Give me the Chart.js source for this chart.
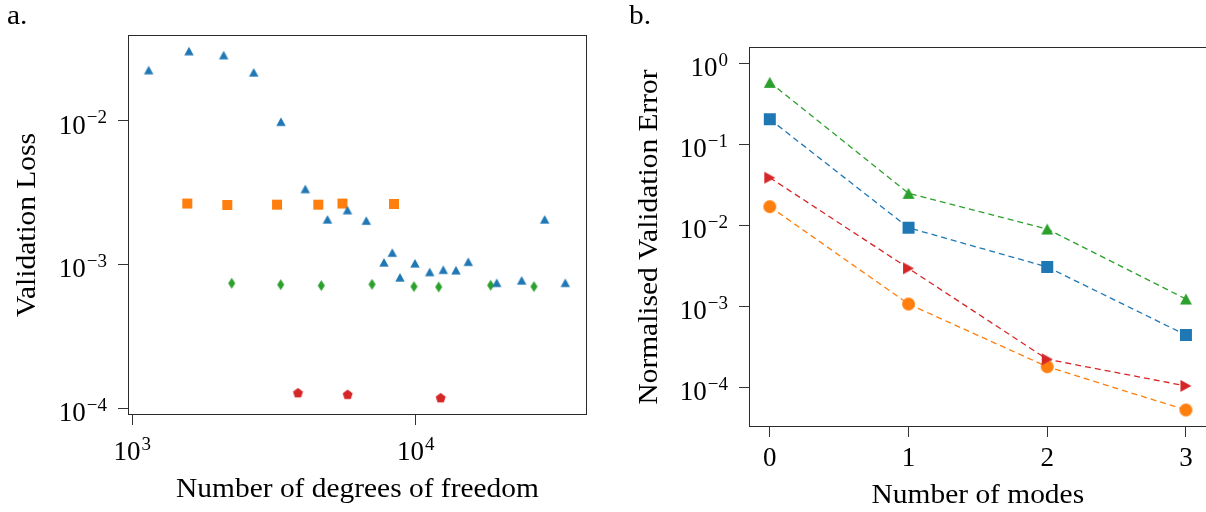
<!DOCTYPE html>
<html><head><meta charset="utf-8">
<script src="https://cdn.jsdelivr.net/npm/chart.js@4.4.0/dist/chart.umd.min.js"></script>
<style>
html,body{margin:0;padding:0;background:#fff;overflow:hidden;width:1206px;height:512px;position:relative}
#wa{position:absolute;left:0;top:0;width:600px;height:512px}
#wb{position:absolute;left:600px;top:0;width:612px;height:512px}
</style></head><body>
<div id="wa"><canvas id="ca" width="600" height="512"></canvas></div>
<div id="wb"><canvas id="cb" width="612" height="512"></canvas></div>
<script>
// ---------- Panel a data ----------
const dofTri  = [1142, 1585, 2101, 2682, 3347, 4077, 4884, 5746, 6694, 7727, 8268, 8802, 9943, 11205, 12516, 13875, 15330, 19316, 23660, 28520, 33720];
const lossTri = [0.0225, 0.0305, 0.0286, 0.0217, 0.00984, 0.00335, 0.00206, 0.00239, 0.00202, 0.001035, 0.00121, 0.000814, 0.00102, 0.000887, 0.00092, 0.000912, 0.001045, 0.000746, 0.000776, 0.00206, 0.000746];
const dofSq   = [1563, 2163, 3241, 4532, 5516, 8383];
const lossSq  = [0.002655, 0.002595, 0.002606, 0.002606, 0.002655, 0.002635];
const dofDia  = [2243, 3339, 4644, 7013, 9862, 12057, 18390, 26150];
const lossDia = [0.00074, 0.000724, 0.000713, 0.000728, 0.000702, 0.000698, 0.000717, 0.000702];
const dofPent = [3843, 5754, 12252];
const lossPent= [0.0001284, 0.0001251, 0.0001186];
const aXTicks = [1e3, 1e4];
const aYTicks = [1e-2, 1e-3, 1e-4];
const aXTitle = 'Number of degrees of freedom';
const aYTitle = 'Validation Loss';

// ---------- Panel b data ----------
const modes     = [0, 1, 2, 3];
const errTriUp  = [0.582, 0.0248, 0.0090, 0.00123];
const errSquare = [0.204, 0.00933, 0.00306, 0.000443];
const errTriR   = [0.0387, 0.00294, 0.000222, 0.000104];
const errCircle = [0.0170, 0.001067, 0.0001795, 5.25e-5];
const bXTicks = [0, 1, 2, 3];
const bYTicks = [1, 1e-1, 1e-2, 1e-3, 1e-4];
const bXTitle = 'Number of modes';
const bYTitle = 'Normalised Validation Error';

const C = {blue:'#1f77b4', orange:'#ff7f0e', green:'#2ca02c', red:'#d62728'};
const FONT = '"Liberation Serif", "DejaVu Serif", serif';
const FS = 27, ES = 19, HS = 1.09;

function zip(xs, ys){ return xs.map((x,i)=>({x:x, y:ys[i]})); }

// marker sprites
function sprite(w, h, color, path){
  const c = document.createElement('canvas');
  c.width = Math.ceil(w) + 2; c.height = Math.ceil(h) + 2;
  const g = c.getContext('2d');
  g.translate(c.width/2, c.height/2);
  g.fillStyle = color; g.beginPath(); path(g, w/2, h/2); g.closePath(); g.fill();
  return c;
}
const triUp = (g,a,b)=>{ g.moveTo(0,-b); g.lineTo(a,b); g.lineTo(-a,b); };
const triR  = (g,a,b)=>{ g.moveTo(a,0); g.lineTo(-a,-b); g.lineTo(-a,b); };
const sq    = (g,a,b)=>{ g.rect(-a,-b,2*a,2*b); };
const dia   = (g,a,b)=>{ g.moveTo(0,-b); g.lineTo(a,0); g.lineTo(0,b); g.lineTo(-a,0); };
const circ  = (g,a,b)=>{ g.arc(0,0,a,0,Math.PI*2); };
const pent  = (g,a,b)=>{ for(let i=0;i<5;i++){ const t=-Math.PI/2+i*2*Math.PI/5; const px=a*Math.cos(t), py=a*Math.sin(t)+a*0.1; i?g.lineTo(px,py):g.moveTo(px,py);} };

function txt(ctx, s, x, y, align, rot, hs){
  ctx.save(); ctx.translate(x,y); if(rot) ctx.rotate(rot); ctx.scale(hs||1,1);
  ctx.textAlign = align; ctx.textBaseline = 'alphabetic'; ctx.fillText(s,0,0); ctx.restore();
}
function sci(ctx, v, x, y, align){
  const e = Math.round(Math.log10(v));
  const es = e < 0 ? '\u2212' + (-e) : '' + e;
  ctx.font = FS + 'px ' + FONT; const wb = ctx.measureText('10').width;
  ctx.font = ES + 'px ' + FONT; const we = ctx.measureText(es).width;
  const tot = wb + 1 + we;
  const left = align === 'right' ? x - tot : x - tot/2;
  ctx.textAlign = 'left'; ctx.textBaseline = 'alphabetic';
  ctx.font = FS + 'px ' + FONT; ctx.fillText('10', left, y);
  ctx.font = ES + 'px ' + FONT; ctx.fillText(es, left + wb + 1, y - 10.5);
}

function deco(o){
  return { id:'deco', afterDraw(chart){
    const ctx = chart.ctx, a = chart.chartArea, sx = chart.scales.x, sy = chart.scales.y;
    ctx.save();
    ctx.strokeStyle = '#2a2a2a'; ctx.lineWidth = 1;
    const L = Math.round(a.left)+0.5, T = Math.round(a.top)+0.5, R = Math.round(a.right)-0.5, B = Math.round(a.bottom)-0.5;
    ctx.strokeRect(L, T, R-L, B-T);
    ctx.fillStyle = '#000';
    o.yTicks.forEach(v=>{ sci(ctx, v, a.left - 21, sy.getPixelForValue(v) + 13, 'right'); });
    o.xTicks.forEach(v=>{
      const px = sx.getPixelForValue(v);
      if (o.xSci) sci(ctx, v, px, o.xLabY, 'center');
      else { ctx.font = FS + 'px ' + FONT; txt(ctx, String(v), px, o.xLabY, 'center'); }
    });
    ctx.font = FS + 'px ' + FONT;
    txt(ctx, o.xTitle, (a.left + a.right)/2, o.xTitleY, 'center', 0, HS);
    txt(ctx, o.yTitle, o.yTitleX, (a.top + a.bottom)/2, 'center', -Math.PI/2, HS);
    txt(ctx, o.letter, o.letterX, 24, 'left', 0, HS);
    ctx.restore();
  }};
}

function axis(type, min, max, ticks, fitKey, fitVal){
  return {
    type, min, max,
    afterBuildTicks(s){ s.ticks = ticks.map(v=>({value:v})); },
    afterFit(s){ s[fitKey] = fitVal; },
    ticks:{ display:true, callback:()=>'', autoSkip:false },
    grid:{ display:true, drawOnChartArea:false, drawTicks:true, tickLength:10, tickWidth:1, tickColor:'#333', color:'#333' },
    border:{ display:false }
  };
}

// ---------- Panel a ----------
new Chart(document.getElementById('ca'), {
  type:'scatter',
  data:{ datasets:[
    { data: zip(dofTri, lossTri),   pointStyle: sprite(9.5, 8.5, C.blue, triUp) },
    { data: zip(dofSq, lossSq),     pointStyle: sprite(10, 10, C.orange, sq) },
    { data: zip(dofDia, lossDia),   pointStyle: sprite(7, 11, C.green, dia) },
    { data: zip(dofPent, lossPent), pointStyle: sprite(10.5, 10.5, C.red, pent) }
  ]},
  options:{
    responsive:false, animation:false, events:[],
    layout:{ padding:{ left:0, top:35, right:13, bottom:0 } },
    plugins:{ legend:{display:false}, tooltip:{enabled:false} },
    scales:{
      x: axis('logarithmic', 965.6, 40228, aXTicks, 'height', 97),
      y: axis('logarithmic', 8.98e-5, 0.03945, aYTicks, 'width', 128)
    }
  },
  plugins:[deco({ xTicks:aXTicks, yTicks:aYTicks, xSci:true, xLabY:460, xTitle:aXTitle, xTitleY:497, yTitle:aYTitle, yTitleX:35, letter:'a.', letterX:7 })]
});

// ---------- Panel b ----------
function lineSet(ys, color, style){
  return { data: zip(modes, ys), showLine:true, borderColor:color, borderWidth:1.3, borderDash:[6,4], pointStyle:style, fill:false };
}
new Chart(document.getElementById('cb'), {
  type:'scatter',
  data:{ datasets:[
    lineSet(errTriR,   C.red,    sprite(11, 12, C.red, triR)),
    lineSet(errTriUp,  C.green,  sprite(12, 11, C.green, triUp)),
    lineSet(errSquare, C.blue,   sprite(12, 12, C.blue, sq)),
    lineSet(errCircle, C.orange, sprite(13, 13, C.orange, circ))
  ]},
  options:{
    responsive:false, animation:false, events:[],
    layout:{ padding:{ left:0, top:47, right:4.5, bottom:0 } },
    plugins:{ legend:{display:false}, tooltip:{enabled:false} },
    scales:{
      x: axis('linear', -0.15, 3.15, bXTicks, 'height', 85),
      y: axis('logarithmic', 3.236e-5, 1.589, bYTicks, 'width', 149)
    }
  },
  plugins:[deco({ xTicks:bXTicks, yTicks:bYTicks, xSci:false, xLabY:466, xTitle:bXTitle, xTitleY:503, yTitle:bYTitle, yTitleX:56.5, letter:'b.', letterX:29 })]
});
</script>
</body></html>
